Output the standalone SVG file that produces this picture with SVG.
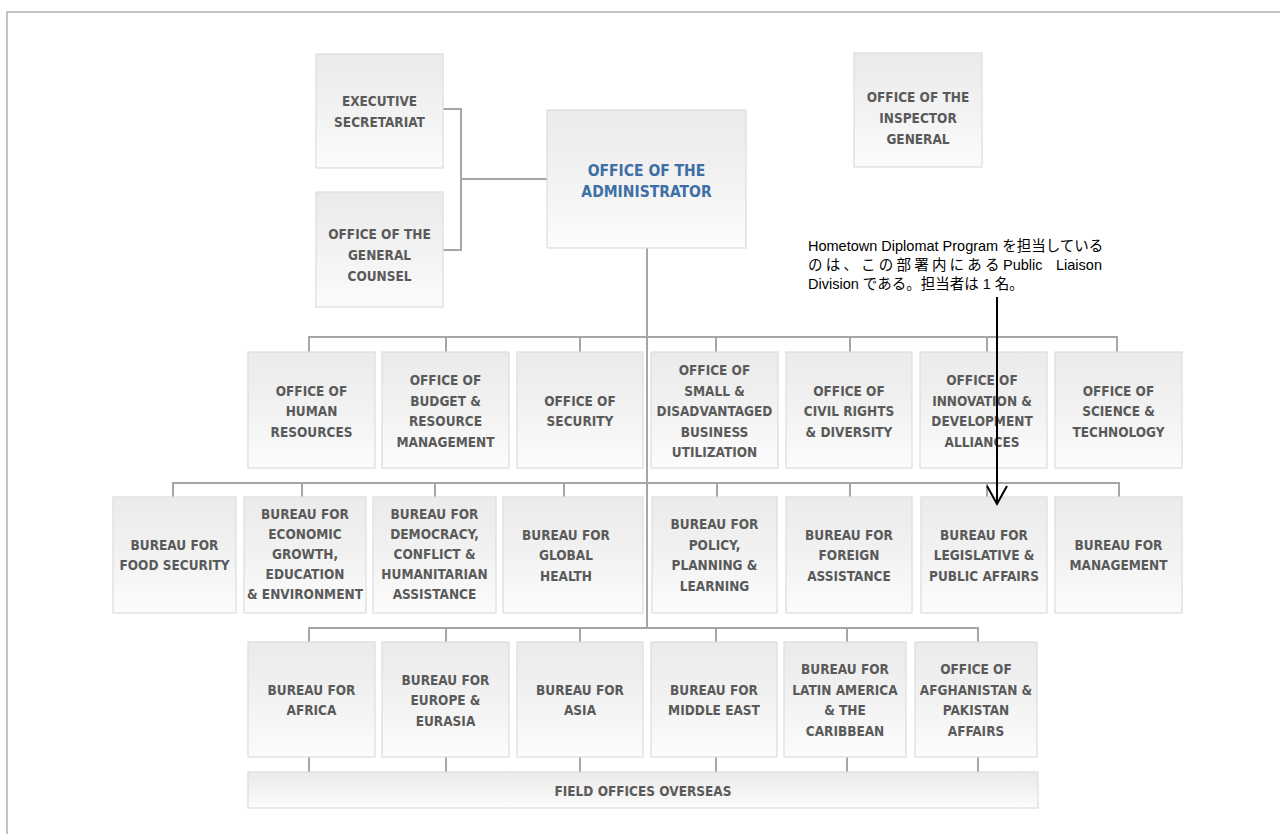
<svg xmlns="http://www.w3.org/2000/svg" width="1280" height="834" viewBox="0 0 1280 834">
<defs>
<linearGradient id="g" x1="0" y1="0" x2="0" y2="1">
<stop offset="0" stop-color="#ebebeb"/>
<stop offset="0.45" stop-color="#f1f1f1"/>
<stop offset="1" stop-color="#fcfcfc"/>
</linearGradient>
<style>
.b{fill:url(#g);stroke:#dcdcdc;stroke-width:1.2}
.t{font-family:"DejaVu Sans Condensed","DejaVu Sans",sans-serif;font-stretch:condensed;font-weight:bold;font-size:13.5px;fill:#5a5a5a;text-anchor:middle}
.adm{font-size:15.5px;fill:#3d6ea6}
.c{fill:none;stroke:#a6a6a6;stroke-width:2}
.note{font-family:"Liberation Sans","Noto Sans CJK JP",sans-serif;font-size:14.5px;fill:#000}
</style>
</defs>
<rect width="1280" height="834" fill="#fff"/>
<rect x="7" y="12" width="1300" height="850" fill="none" stroke="#b4b4b4" stroke-width="1.6"/>

<g id="connectors" class="c">
<path d="M443,109 H461 V250 H443 M461,179 H547"/>
<path d="M647,248 V628"/>
<path d="M309,352 V337 H1117 V352 M446,337 V352 M580,337 V352 M716,337 V352 M850,337 V352 M987,337 V352"/>
<path d="M173,497 V483 H1119 V497 M302,483 V497 M435,483 V497 M564,483 V497 M717,483 V497 M850,483 V497 M987,483 V497"/>
<path d="M309,642 V628 H978 V642 M446,628 V642 M580,628 V642 M716,628 V642 M847,628 V642"/>
<path d="M309,757 V772 M446,757 V772 M580,757 V772 M716,757 V772 M847,757 V772 M978,757 V772"/>
</g>

<g id="n-exec"><rect class="b" x="316" y="54" width="127" height="114"/><text class="t" x="379.5" y="105.75">EXECUTIVE<tspan x="379.5" dy="21">SECRETARIAT</tspan></text></g>
<g id="n-counsel"><rect class="b" x="316" y="192" width="127" height="115"/><text class="t" x="379.5" y="238.5">OFFICE OF THE<tspan x="379.5" dy="21">GENERAL</tspan><tspan x="379.5" dy="21">COUNSEL</tspan></text></g>
<g id="n-admin"><rect class="b" x="547" y="110" width="199" height="138"/><text class="t adm" x="646.5" y="175.5">OFFICE OF THE<tspan x="646.5" dy="21">ADMINISTRATOR</tspan></text></g>
<g id="n-inspector"><rect class="b" x="854" y="53" width="128" height="114"/><text class="t" x="918" y="101.5">OFFICE OF THE<tspan x="918" dy="21">INSPECTOR</tspan><tspan x="918" dy="21">GENERAL</tspan></text></g>

<g id="n-hr"><rect class="b" x="248" y="352" width="127" height="116"/><text class="t" x="311.5" y="395.5">OFFICE OF<tspan x="311.5" dy="20.5">HUMAN</tspan><tspan x="311.5" dy="20.5">RESOURCES</tspan></text></g>
<g id="n-budget"><rect class="b" x="382" y="352" width="127" height="116"/><text class="t" x="445.5" y="385.25">OFFICE OF<tspan x="445.5" dy="20.5">BUDGET &amp;</tspan><tspan x="445.5" dy="20.5">RESOURCE</tspan><tspan x="445.5" dy="20.5">MANAGEMENT</tspan></text></g>
<g id="n-security"><rect class="b" x="517" y="352" width="126" height="116"/><text class="t" x="580" y="405.75">OFFICE OF<tspan x="580" dy="20.5">SECURITY</tspan></text></g>
<g id="n-small"><rect class="b" x="651" y="352" width="127" height="116"/><text class="t" x="714.5" y="375">OFFICE OF<tspan x="714.5" dy="20.5">SMALL &amp;</tspan><tspan x="714.5" dy="20.5">DISADVANTAGED</tspan><tspan x="714.5" dy="20.5">BUSINESS</tspan><tspan x="714.5" dy="20.5">UTILIZATION</tspan></text></g>
<g id="n-civil"><rect class="b" x="786" y="352" width="126" height="116"/><text class="t" x="849" y="395.5">OFFICE OF<tspan x="849" dy="20.5">CIVIL RIGHTS</tspan><tspan x="849" dy="20.5">&amp; DIVERSITY</tspan></text></g>
<g id="n-innovation"><rect class="b" x="920" y="352" width="127" height="116"/><text class="t" x="982" y="385.25">OFFICE OF<tspan x="982" dy="20.5">INNOVATION &amp;</tspan><tspan x="982" dy="20.5">DEVELOPMENT</tspan><tspan x="982" dy="20.5">ALLIANCES</tspan></text></g>
<g id="n-science"><rect class="b" x="1055" y="352" width="127" height="116"/><text class="t" x="1118.5" y="395.5">OFFICE OF<tspan x="1118.5" dy="20.5">SCIENCE &amp;</tspan><tspan x="1118.5" dy="20.5">TECHNOLOGY</tspan></text></g>

<g id="n-food"><rect class="b" x="113" y="497" width="123" height="116"/><text class="t" x="174.5" y="549.75">BUREAU FOR<tspan x="174.5" dy="20.5">FOOD SECURITY</tspan></text></g>
<g id="n-economic"><rect class="b" x="244" y="497" width="122" height="116"/><text class="t" x="305" y="519">BUREAU FOR<tspan x="305" dy="20">ECONOMIC</tspan><tspan x="305" dy="20">GROWTH,</tspan><tspan x="305" dy="20">EDUCATION</tspan><tspan x="305" dy="20">&amp; ENVIRONMENT</tspan></text></g>
<g id="n-democracy"><rect class="b" x="373" y="497" width="123" height="116"/><text class="t" x="434.5" y="519">BUREAU FOR<tspan x="434.5" dy="20">DEMOCRACY,</tspan><tspan x="434.5" dy="20">CONFLICT &amp;</tspan><tspan x="434.5" dy="20">HUMANITARIAN</tspan><tspan x="434.5" dy="20">ASSISTANCE</tspan></text></g>
<g id="n-health"><rect class="b" x="503" y="497" width="140" height="116"/><text class="t" x="566" y="539.5">BUREAU FOR<tspan x="566" dy="20.5">GLOBAL</tspan><tspan x="566" dy="20.5">HEALTH</tspan></text></g>
<g id="n-policy"><rect class="b" x="652" y="497" width="125" height="116"/><text class="t" x="714.5" y="529.25">BUREAU FOR<tspan x="714.5" dy="20.5">POLICY,</tspan><tspan x="714.5" dy="20.5">PLANNING &amp;</tspan><tspan x="714.5" dy="20.5">LEARNING</tspan></text></g>
<g id="n-foreign"><rect class="b" x="786" y="497" width="126" height="116"/><text class="t" x="849" y="539.5">BUREAU FOR<tspan x="849" dy="20.5">FOREIGN</tspan><tspan x="849" dy="20.5">ASSISTANCE</tspan></text></g>
<g id="n-legislative"><rect class="b" x="921" y="497" width="126" height="116"/><text class="t" x="984" y="539.5">BUREAU FOR<tspan x="984" dy="20.5">LEGISLATIVE &amp;</tspan><tspan x="984" dy="20.5">PUBLIC AFFAIRS</tspan></text></g>
<g id="n-management"><rect class="b" x="1055" y="497" width="127" height="116"/><text class="t" x="1118.5" y="549.75">BUREAU FOR<tspan x="1118.5" dy="20.5">MANAGEMENT</tspan></text></g>

<g id="n-africa"><rect class="b" x="248" y="642" width="127" height="115"/><text class="t" x="311.5" y="694.75">BUREAU FOR<tspan x="311.5" dy="20.5">AFRICA</tspan></text></g>
<g id="n-europe"><rect class="b" x="382" y="642" width="127" height="115"/><text class="t" x="445.5" y="684.5">BUREAU FOR<tspan x="445.5" dy="20.5">EUROPE &amp;</tspan><tspan x="445.5" dy="20.5">EURASIA</tspan></text></g>
<g id="n-asia"><rect class="b" x="517" y="642" width="126" height="115"/><text class="t" x="580" y="694.75">BUREAU FOR<tspan x="580" dy="20.5">ASIA</tspan></text></g>
<g id="n-mideast"><rect class="b" x="651" y="642" width="126" height="115"/><text class="t" x="714" y="694.75">BUREAU FOR<tspan x="714" dy="20.5">MIDDLE EAST</tspan></text></g>
<g id="n-latin"><rect class="b" x="784" y="642" width="122" height="115"/><text class="t" x="845" y="674.25">BUREAU FOR<tspan x="845" dy="20.5">LATIN AMERICA</tspan><tspan x="845" dy="20.5">&amp; THE</tspan><tspan x="845" dy="20.5">CARIBBEAN</tspan></text></g>
<g id="n-afpak"><rect class="b" x="915" y="642" width="122" height="115"/><text class="t" x="976" y="674.25">OFFICE OF<tspan x="976" dy="20.5">AFGHANISTAN &amp;</tspan><tspan x="976" dy="20.5">PAKISTAN</tspan><tspan x="976" dy="20.5">AFFAIRS</tspan></text></g>

<g id="n-field"><rect class="b" x="248" y="772" width="790" height="36"/><text class="t" x="643" y="795.5">FIELD OFFICES OVERSEAS</text></g>

<g id="annotation">
<text class="note" x="808" y="251">Hometown Diplomat Program を担当している</text>
<text class="note" y="270"><tspan x="808" letter-spacing="3.2">のは、この部署内にある</tspan><tspan x="1003">Public</tspan><tspan x="1056">Liaison</tspan></text>
<text class="note" x="808" y="289">Division である。担当者は 1 名。</text>
<path d="M997,297 V504 M987,486 L997,504 L1007,486" fill="none" stroke="#000" stroke-width="2"/>
</g>
</svg>
